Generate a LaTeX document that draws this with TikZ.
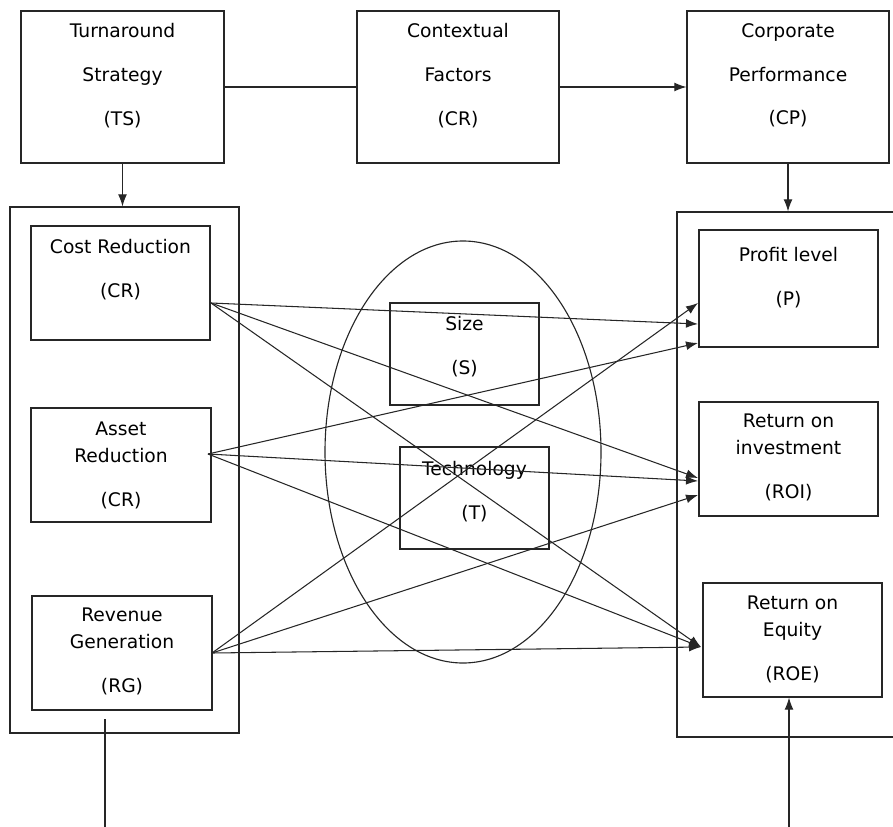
\documentclass[tikz,border=0pt]{standalone}
\usepackage{fontspec}
\setmainfont{DejaVu Sans}
\usepackage{tikz}
\usetikzlibrary{arrows.meta, positioning, shapes.geometric}

\tikzset{
    box/.style={draw=black!85, line width=0.8pt, rectangle, inner sep=0pt},
    wh/.style 2 args={minimum width=#1*0.025cm, minimum height=#2*0.025cm},
    boxtext/.style={anchor=north, align=center, inner sep=0pt,
        font=\fontsize{13.3pt}{19.2pt}\selectfont},
    link/.style={draw=black!85, line width=0.75pt},
    arr/.style={link, -{Latex[length=3mm, width=2.2mm]}}
}

\begin{document}
\begin{tikzpicture}[x=0.025cm, y=-0.025cm]
    \useasboundingbox (0,0) rectangle (893,827);

    % Top row
    \node[box, wh={203}{152}] (ts) at (122.5,87) {};
    \node[box, wh={202}{152}] (cf) at (458,87) {};
    \node[box, wh={202}{152}] (cp) at (788,87) {};
    \node[boxtext] (ts-t) at (122.5,23) {Turnaround\\[12pt]Strategy\\[12pt](TS)};
    \node[boxtext] (cf-t) at (458,23) {Contextual\\[12pt]Factors\\[12pt](CR)};
    \node[boxtext] (cp-t) at (788,23) {Corporate\\[12pt]Performance\\[12pt](CP)};

    % Strategy group (left)
    \node[box, wh={229}{526}] (strat) at (124.5,470) {};
    \node[box, wh={179}{114}] (cr) at (120.5,283) {};
    \node[box, wh={180}{114}] (ar) at (121,465) {};
    \node[box, wh={180}{114}] (rg) at (122,653) {};
    \node[boxtext] (cr-t) at (120.5,239) {Cost Reduction\\[12pt](CR)};
    \node[boxtext] (ar-t) at (121,422) {Asset\\Reduction\\[12pt](CR)};
    \node[boxtext] (rg-t) at (122,608) {Revenue\\Generation\\[12pt](RG)};

    % Contextual factors (middle)
    \node[draw=black!85, line width=0.8pt, ellipse, wh={276}{422}] (ctx) at (463,452) {};
    \node[box, wh={149}{102}] (size) at (464.5,354) {};
    \node[box, wh={149}{102}] (tech) at (474.5,498) {};
    \node[boxtext] (size-t) at (464.5,316) {Size\\[12pt](S)};
    \node[boxtext] (tech-t) at (474.5,461) {Technology\\[12pt](T)};

    % Performance group (right)
    \node[box, wh={233}{525}] (perf) at (793.5,474.5) {};
    \node[box, wh={179}{117}] (p) at (788.5,288.5) {};
    \node[box, wh={179}{114}] (roi) at (788.5,459) {};
    \node[box, wh={179}{114}] (roe) at (792.5,640) {};
    \node[boxtext] (p-t) at (788.5,247) {Profit level\\[12pt](P)};
    \node[boxtext] (roi-t) at (788.5,414) {Return on\\investment\\[12pt](ROI)};
    \node[boxtext] (roe-t) at (792.5,596) {Return on\\Equity\\[12pt](ROE)};

    % Top links
    \draw[link] (ts) -- (cf);
    \draw[arr] (cf) -- (cp);
    \draw[arr] (ts.south) -- (ts.south |- strat.north);
    \draw[arr] (cp.south) -- (cp.south |- perf.north);

    % Start and end points of the cross links
    \coordinate (cr-o) at (211,303);
    \coordinate (ar-o) at (208,454);
    \coordinate (rg-o) at (212,653);
    \coordinate (p-1) at (698,303);
    \coordinate (p-2) at (698,324);
    \coordinate (p-3) at (698,343);
    \coordinate (roi-1) at (698,478);
    \coordinate (roi-2) at (698,481);
    \coordinate (roi-3) at (698,495);
    \coordinate (roe-1) at (701,647);

    \foreach \s/\t in {cr-o/p-2, cr-o/roi-1, cr-o/roe-1,
                       ar-o/p-3, ar-o/roi-2, ar-o/roe-1,
                       rg-o/p-1, rg-o/roi-3, rg-o/roe-1}
        \draw[arr] (\s) -- (\t);

    % Bottom lines
    \coordinate (lb-top) at (105,719);
    \coordinate (lb-end) at (105,827);
    \coordinate (rb-end) at (789,827);
    \draw[link] (lb-top) -- (lb-end);
    \draw[arr] (rb-end) -- (rb-end |- roe.south);
\end{tikzpicture}
\end{document}
